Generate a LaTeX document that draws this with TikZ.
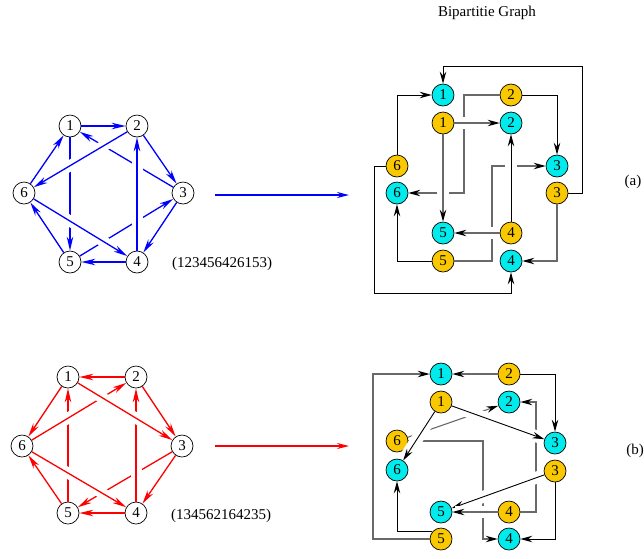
\documentclass[tikz,border=0pt]{standalone}
\usepackage{fontspec}
\setmainfont{Liberation Serif}
\usetikzlibrary{arrows.meta}
\definecolor{cyn}{RGB}{0,236,236}
\definecolor{gld}{RGB}{250,200,0}
\definecolor{lgray}{RGB}{105,105,105}
\definecolor{eblue}{RGB}{0,0,255}
\definecolor{ered}{RGB}{255,0,0}
\begin{document}
\begin{tikzpicture}[x=1pt,y=-1pt,
  every node/.style={font=\fontsize{15}{15}\selectfont},
  vtx/.style={circle,draw=black,fill=white,line width=0.7pt,minimum size=22pt,inner sep=0pt},
  cnode/.style={vtx,fill=cyn},
  gnode/.style={vtx,fill=gld},
  bedge/.style={color=eblue,line width=1.3pt,-{Stealth[length=14pt,width=6.5pt,inset=4.5pt]}},
  redge/.style={color=ered,line width=1.3pt,-{Stealth[length=14pt,width=6.5pt,inset=4.5pt]}},
  gap/.style={color=white,line width=11pt,shorten <=10pt,shorten >=10pt},
  bgap/.style={color=white,line width=12pt,shorten <=3pt,shorten >=3pt},
  kedge/.style={color=black,line width=0.9pt,-{Stealth[length=12pt,width=6.5pt,inset=4pt]}},
  gedge/.style={color=lgray,line width=1.1pt,-{Stealth[length=12pt,width=6.5pt,inset=4pt,color=black]}},
]
\useasboundingbox (0,0) rectangle (644,558);

% ---------- title and labels
\node (title) at (487,13) {Bipartitie Graph};
\node (la) at (633,182) {(a)};
\node (lb) at (635,451) {(b)};
\node (seqa) at (222,264) {(123456426153)};
\node (seqb) at (221,516) {(134562164235)};

% ---------- left graph (a)
\node[vtx] (a1) at (70,126) {1};
\node[vtx] (a2) at (137,126) {2};
\node[vtx] (a3) at (183,193) {3};
\node[vtx] (a4) at (137,262) {4};
\node[vtx] (a5) at (70,262) {5};
\node[vtx] (a6) at (24,193) {6};
\draw[bedge] (a1) -- (a2);
\draw[bedge] (a2) -- (a3);
\draw[bedge] (a3) -- (a4);
\draw[bedge] (a4) -- (a5);
\draw[bedge] (a5) -- (a6);
\draw[bedge] (a6) -- (a1);
\draw[bedge] (a3) -- (a1);
\draw[bedge] (a1) -- (a5);
\draw[bedge] (a5) -- (a3);
\draw[gap] (a2) -- (a6);
\draw[bedge] (a2) -- (a6);
\draw[gap] (a4) -- (a2);
\draw[bedge] (a4) -- (a2);
\draw[gap] (a6) -- (a4);
\draw[bedge] (a6) -- (a4);

% ---------- left graph (b)
\node[vtx] (b1) at (68,377) {1};
\node[vtx] (b2) at (136,377) {2};
\node[vtx] (b3) at (182,446) {3};
\node[vtx] (b4) at (136,513) {4};
\node[vtx] (b5) at (68,513) {5};
\node[vtx] (b6) at (22,446) {6};
\draw[redge] (b2) -- (b1);
\draw[redge] (b2) -- (b3);
\draw[redge] (b3) -- (b4);
\draw[redge] (b4) -- (b5);
\draw[redge] (b5) -- (b6);
\draw[redge] (b1) -- (b6);
\draw[redge] (b5) -- (b1);
\draw[redge] (b3) -- (b5);
\draw[gap] (b6) -- (b2);
\draw[redge] (b6) -- (b2);
\draw[gap] (b6) -- (b4);
\draw[redge] (b6) -- (b4);
\draw[gap] (b4) -- (b2);
\draw[redge] (b4) -- (b2);
\draw[gap] (b1) -- (b3);
\draw[redge] (b1) -- (b3);

% ---------- middle arrows
\coordinate (ma1) at (215,195);
\coordinate (ma2) at (349,195);
\coordinate (mb1) at (215,446);
\coordinate (mb2) at (349,446);
\draw[color=eblue,line width=1.1pt,-{Stealth[length=12pt,width=6pt,inset=4pt]}] (ma1) -- (ma2);
\draw[color=ered,line width=1.1pt,-{Stealth[length=12pt,width=6pt,inset=4pt]}] (mb1) -- (mb2);

% ---------- bipartite (a)
\node[cnode] (c1) at (443,95) {1};
\node[gnode] (g1) at (443,123) {1};
\node[gnode] (g2) at (511,95) {2};
\node[cnode] (c2) at (511,123) {2};
\node[gnode] (g6) at (397,166) {6};
\node[cnode] (c6) at (397,193) {6};
\node[cnode] (c3) at (557,166) {3};
\node[gnode] (g3) at (557,193) {3};
\node[cnode] (c5) at (443,233) {5};
\node[gnode] (g4) at (511,233) {4};
\node[gnode] (g5) at (443,261) {5};
\node[cnode] (c4) at (511,261) {4};

\draw[gedge] (g2.west) -- (464,95) |- (c6);
\draw[gedge] (g5.east) -- (492,261) |- (c3);
\draw[bgap] (g1) -- (c2);
\draw[gedge] (g1) -- (c2);
\draw[bgap] (g1) -- (c5);
\draw[gedge] (g1) -- (c5);
\draw[bgap] (g4) -- (c5);
\draw[gedge] (g4) -- (c5);
\draw[bgap] (g4) -- (c2);
\draw[kedge] (g4) -- (c2);
\draw[kedge] (g2) -| (c3);
\draw[gedge] (g3) |- (c4);
\draw[kedge] (g5) -| (c6);
\draw[kedge] (g6.west) -- (374,166) -- (374,293) -| (c4);
\draw[kedge] (g6) |- (c1);
\draw[kedge] (g3.east) -- (582,193) -- (582,66) -| (c1);

% ---------- bipartite (b)
\node[cnode] (d1) at (441,374) {1};
\node[gnode] (h2) at (509,374) {2};
\node[gnode] (h1) at (441,402) {1};
\node[cnode] (d2) at (509,402) {2};
\node[gnode] (h6) at (397,441) {6};
\node[cnode] (d3) at (555,443) {3};
\node[cnode] (d6) at (397,470) {6};
\node[gnode] (h3) at (555,471) {3};
\node[cnode] (d5) at (441,512) {5};
\node[gnode] (h4) at (509,512) {4};
\node[gnode] (h5) at (441,539) {5};
\node[cnode] (d4) at (509,539) {4};

\draw[gedge] (h6) -- (d2);
\draw[gedge] (h6.east) -- (483,441) |- (d4);
\draw[gedge] (h4.east) -- (536,512) |- (d2);
\draw[bgap] (h1) -- (d6);
\draw[kedge] (h1) -- (d6);
\draw[bgap] (h1) -- (d3);
\draw[kedge] (h1) -- (d3);
\draw[bgap] (h3) -- (d5);
\draw[kedge] (h3) -- (d5);
\draw[bgap] (h4) -- (d5);
\draw[gedge] (h4) -- (d5);
\draw[gedge] (h2) -- (d1);
\draw[kedge] (h2) -| (d3);
\draw[kedge] (h5.140) -| (d6);
\draw[gedge] (h5.west) -- (373,539) |- (d1);
\draw[kedge] (h3) |- (d4);
\end{tikzpicture}
\end{document}
